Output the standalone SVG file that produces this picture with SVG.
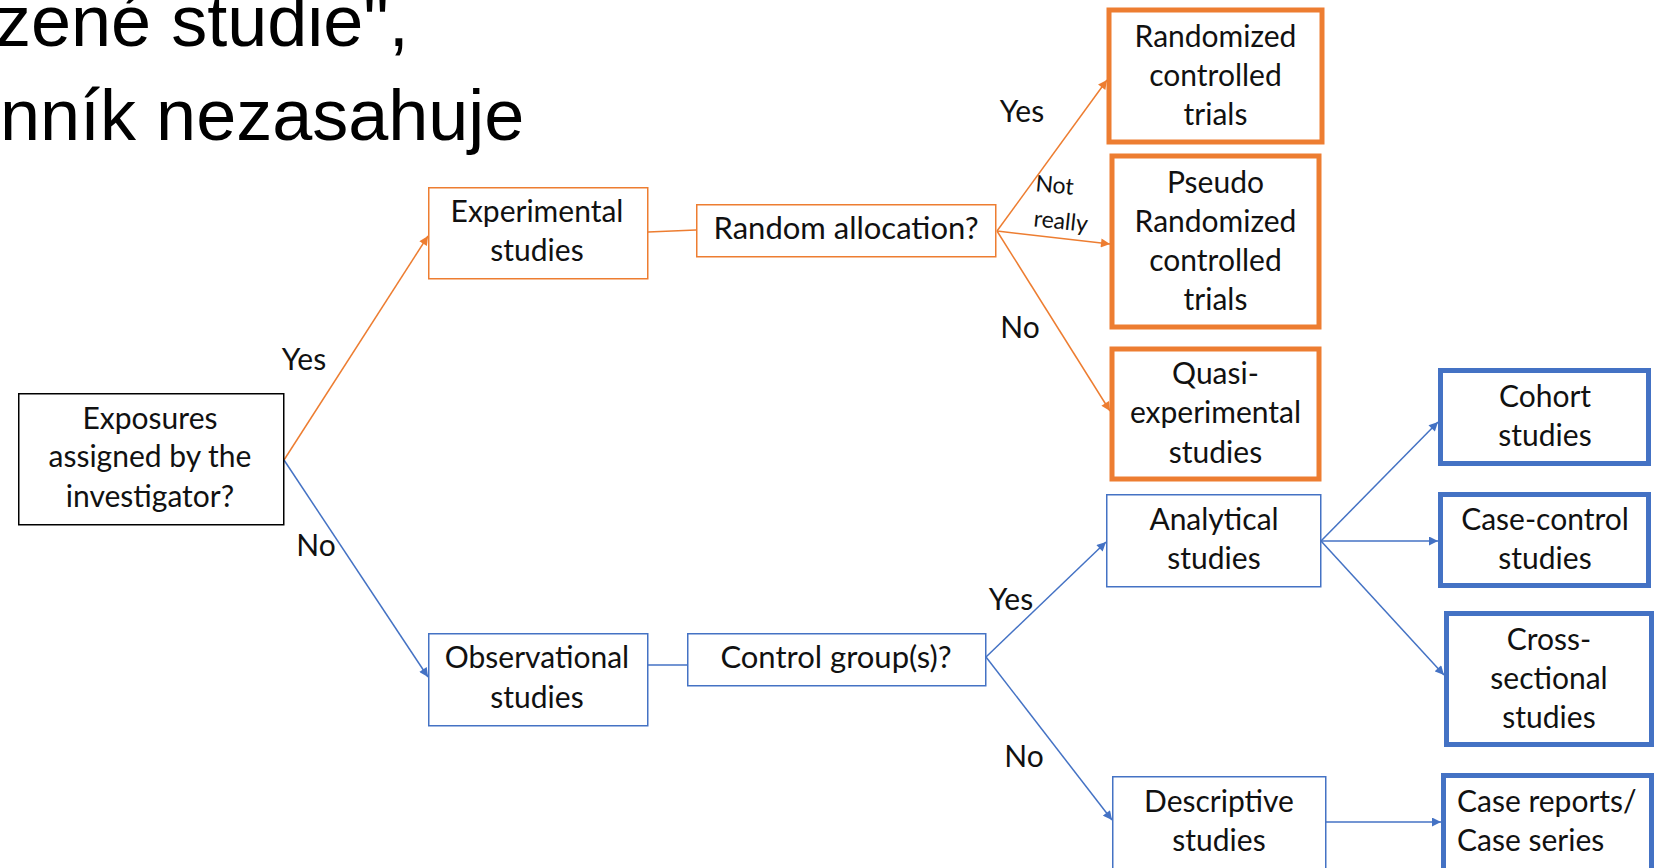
<svg xmlns="http://www.w3.org/2000/svg" width="1665" height="868" viewBox="0 0 1665 868">
<style>
.title{font-family:"Liberation Sans",Arial,sans-serif;font-size:72px;fill:#000}
.t{font-family:Lato,"Open Sans",sans-serif;font-size:30px;fill:#111;text-anchor:middle}
.q{font-size:31px}
.lbl{font-family:Lato,"Open Sans",sans-serif;font-size:30px;fill:#111;text-anchor:middle}
.sm{font-family:Lato,"Open Sans",sans-serif;font-size:23px;fill:#111;text-anchor:middle}
.bk{fill:#fff;stroke:#000;stroke-width:1.5}
.oth{fill:#fff;stroke:#ED7D31;stroke-width:1.5}
.otk{fill:#fff;stroke:#ED7D31;stroke-width:5}
.bth{fill:#fff;stroke:#4472C4;stroke-width:1.5}
.btk{fill:#fff;stroke:#4472C4;stroke-width:5}
.co{fill:none;stroke:#ED7D31;stroke-width:1.5}
.cb{fill:none;stroke:#4472C4;stroke-width:1.5}
</style>
<defs>
<marker id="ao" viewBox="0 0 10 10" refX="10" refY="5" markerWidth="10" markerHeight="9" markerUnits="userSpaceOnUse" orient="auto"><path d="M0,0 L10,5 L0,10 z" fill="#ED7D31"/></marker>
<marker id="ab" viewBox="0 0 10 10" refX="10" refY="5" markerWidth="10" markerHeight="9" markerUnits="userSpaceOnUse" orient="auto"><path d="M0,0 L10,5 L0,10 z" fill="#4472C4"/></marker>
</defs>
<rect width="1665" height="868" fill="#fff"/>
<g id="title">
<text class="title" x="-5" y="46">zené studie",</text>
<text class="title" x="0" y="140">nník nezasahuje</text>
</g>
<g id="connectors">
<path class="co" d="M284,460 L428,236" marker-end="url(#ao)"/>
<path class="co" d="M648,232 L696,230"/>
<path class="co" d="M997,231 L1107,80" marker-end="url(#ao)"/>
<path class="co" d="M997,231 L1110,244" marker-end="url(#ao)"/>
<path class="co" d="M997,231 L1110,411" marker-end="url(#ao)"/>
<path class="cb" d="M284,460 L428,677" marker-end="url(#ab)"/>
<path class="cb" d="M648,665 L687,665"/>
<path class="cb" d="M986,657 L1106,542" marker-end="url(#ab)"/>
<path class="cb" d="M986,657 L1112,820" marker-end="url(#ab)"/>
<path class="cb" d="M1321,541 L1438,422" marker-end="url(#ab)"/>
<path class="cb" d="M1321,541 L1438,541" marker-end="url(#ab)"/>
<path class="cb" d="M1321,541 L1444,675" marker-end="url(#ab)"/>
<path class="cb" d="M1326,822 L1441,822" marker-end="url(#ab)"/>
</g>
<g id="labels">
<text class="lbl" x="304" y="370">Yes</text>
<text class="lbl" x="316" y="556">No</text>
<text class="lbl" x="1022" y="122">Yes</text>
<text class="sm" x="1054" y="193" transform="rotate(5 1054 193)">Not</text>
<text class="sm" x="1060" y="229" transform="rotate(6 1060 229)">really</text>
<text class="lbl" x="1020" y="338">No</text>
<text class="lbl" x="1011" y="610">Yes</text>
<text class="lbl" x="1024" y="767">No</text>
</g>
<g id="n-exposures">
<rect class="bk" x="18.75" y="393.75" width="265" height="131"/>
<text class="t" x="150" y="429">Exposures</text>
<text class="t" x="150" y="467">assigned by the</text>
<text class="t" x="150" y="507">investigator?</text>
</g>
<g id="n-experimental">
<rect class="oth" x="428.75" y="187.75" width="219" height="91"/>
<text class="t" x="537" y="222">Experimental</text>
<text class="t" x="537" y="261">studies</text>
</g>
<g id="n-random">
<rect class="oth" x="696.75" y="204.75" width="299" height="52"/>
<text class="t q" x="846" y="239">Random allocation?</text>
</g>
<g id="n-rct">
<rect class="otk" x="1109" y="10" width="213" height="132"/>
<text class="t" x="1215.5" y="47">Randomized</text>
<text class="t" x="1215.5" y="86">controlled</text>
<text class="t" x="1215.5" y="125">trials</text>
</g>
<g id="n-pseudo">
<rect class="otk" x="1112" y="156" width="207" height="171"/>
<text class="t" x="1215.5" y="193">Pseudo</text>
<text class="t" x="1215.5" y="232">Randomized</text>
<text class="t" x="1215.5" y="271">controlled</text>
<text class="t" x="1215.5" y="310">trials</text>
</g>
<g id="n-quasi">
<rect class="otk" x="1112" y="349" width="207" height="130"/>
<text class="t" x="1215.5" y="384">Quasi-</text>
<text class="t" x="1215.5" y="423">experimental</text>
<text class="t" x="1215.5" y="463">studies</text>
</g>
<g id="n-observational">
<rect class="bth" x="428.75" y="633.75" width="219" height="92"/>
<text class="t" x="537" y="668">Observational</text>
<text class="t" x="537" y="708">studies</text>
</g>
<g id="n-control">
<rect class="bth" x="687.75" y="633.75" width="298" height="52"/>
<text class="t q" x="836" y="668">Control group(s)?</text>
</g>
<g id="n-analytical">
<rect class="bth" x="1106.75" y="494.75" width="214" height="92"/>
<text class="t" x="1214" y="530">Analytical</text>
<text class="t" x="1214" y="569">studies</text>
</g>
<g id="n-descriptive">
<rect class="bth" x="1112.75" y="776.75" width="213" height="100"/>
<text class="t" x="1219" y="812">Descriptive</text>
<text class="t" x="1219" y="851">studies</text>
</g>
<g id="n-cohort">
<rect class="btk" x="1440.5" y="370.5" width="208" height="93"/>
<text class="t" x="1545" y="407">Cohort</text>
<text class="t" x="1545" y="446">studies</text>
</g>
<g id="n-casecontrol">
<rect class="btk" x="1440.5" y="494.5" width="208" height="91"/>
<text class="t" x="1545" y="530">Case-control</text>
<text class="t" x="1545" y="569">studies</text>
</g>
<g id="n-cross">
<rect class="btk" x="1446.5" y="613.5" width="205" height="131"/>
<text class="t" x="1549" y="650">Cross-</text>
<text class="t" x="1549" y="689">sectional</text>
<text class="t" x="1549" y="728">studies</text>
</g>
<g id="n-casereports">
<rect class="btk" x="1443.5" y="775.5" width="208" height="102"/>
<text class="t" x="1457" y="812" style="text-anchor:start">Case reports/</text>
<text class="t" x="1457" y="851" style="text-anchor:start">Case series</text>
</g>
</svg>
